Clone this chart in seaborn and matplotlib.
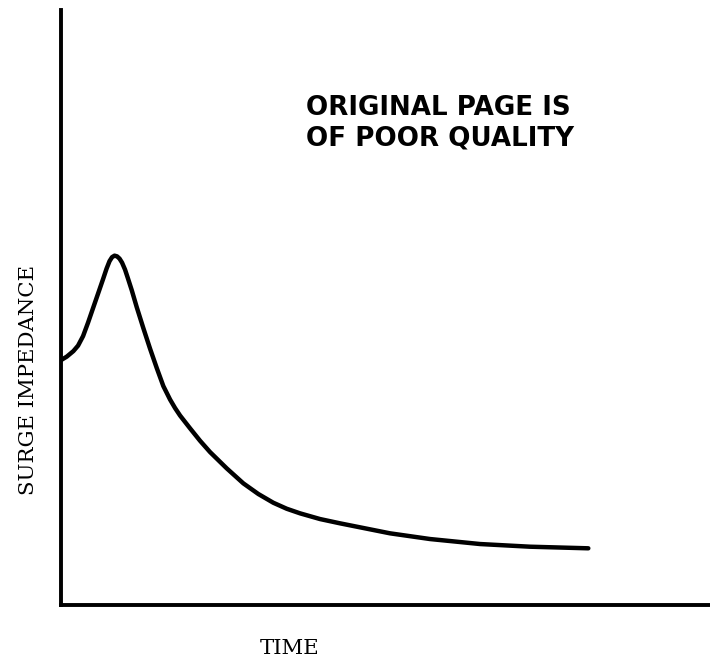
import matplotlib
matplotlib.use("Agg")
import matplotlib.pyplot as plt
import seaborn as sns

# values (time and impedance in arbitrary units, 0-100)
time = [0.0, 0.88, 1.90, 2.62, 3.39, 4.16, 4.93, 5.70, 6.47, 7.01, 7.47, 7.86,
        8.24, 8.63, 9.01, 9.40, 9.86, 10.32, 10.89, 11.66, 12.68, 13.71, 14.75,
        15.76, 16.80, 17.57, 18.34, 19.88, 21.42, 22.96, 25.53, 28.09, 30.40,
        32.71, 34.78, 36.83, 39.91, 42.99, 50.69, 56.86, 64.56, 72.26, 81.25]
impedance = [41.18, 41.76, 42.69, 43.61, 45.21, 47.48, 49.92, 52.35, 54.79,
             56.55, 57.82, 58.49, 58.74, 58.62, 58.24, 57.56, 56.39, 54.87,
             52.94, 50.08, 46.55, 43.11, 39.83, 36.81, 34.54, 33.11, 31.85,
             29.70, 27.61, 25.71, 22.97, 20.45, 18.66, 17.19, 16.18, 15.41,
             14.45, 13.73, 12.05, 11.09, 10.25, 9.80, 9.53]

sns.set_style("white")

fig = plt.figure(figsize=(7.1, 6.63), dpi=100)
ax = fig.add_axes([0.086, 0.0875, 0.914, 0.897])

sns.lineplot(x=time, y=impedance, color="black", linewidth=3.2, ax=ax,
             solid_capstyle="round", solid_joinstyle="round")

ax.set_xlim(0, 100)
ax.set_ylim(0, 100)
ax.set_xticks([])
ax.set_yticks([])
sns.despine(ax=ax, top=True, right=True)
for side in ["left", "bottom"]:
    ax.spines[side].set_color("black")
    ax.spines[side].set_linewidth(2.8)

# stamp
ax.text(0.3775, 0.81, "ORIGINAL PAGE IS\nOF POOR QUALITY", transform=ax.transAxes,
        family="DejaVu Sans", fontweight="bold", fontsize=18.8, color="black",
        ha="left", va="center", linespacing=1.2)

fig.text(28 / 710, 1 - 380 / 663, "SURGE IMPEDANCE", rotation=90,
         family="DejaVu Serif", fontsize=15.3, color="black",
         ha="center", va="center")
fig.text(290 / 710, 1 - 649 / 663, "TIME",
         family="DejaVu Serif", fontsize=15.3, color="black",
         ha="center", va="center")

fig.savefig("out.png", dpi=100)
